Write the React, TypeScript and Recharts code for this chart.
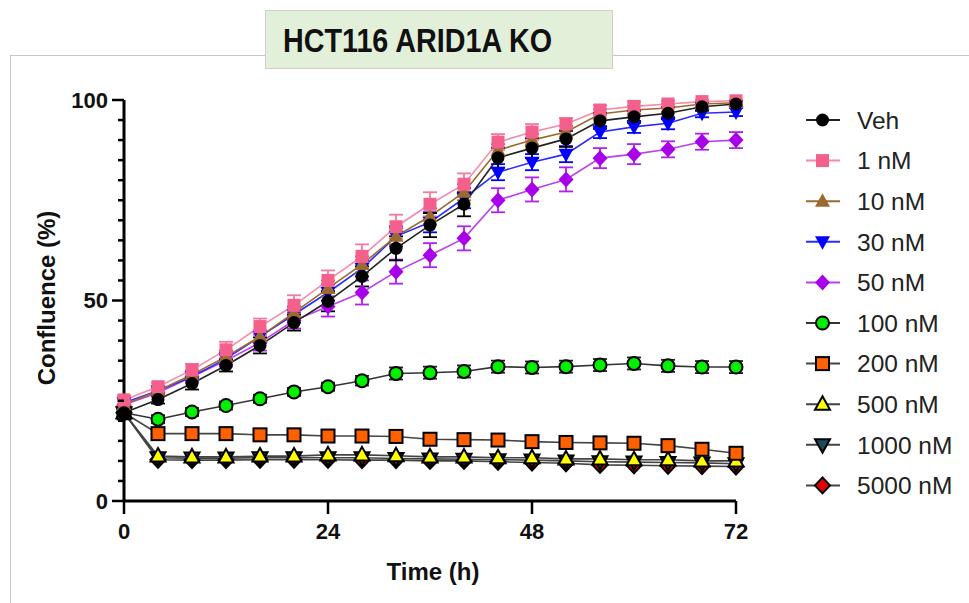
import { LineChart, Line, XAxis, YAxis, ErrorBar } from "recharts";

// time points (h)
const times = [0, 4, 8, 12, 16, 20, 24, 28, 32, 36, 40, 44, 48, 52, 56, 60, 64, 68, 72];

const veh = [22, 25.3, 29.3, 33.8, 38.8, 44.5, 49.8, 56, 63, 68.8, 74, 85.6, 88, 90.3, 94.8, 95.8, 96.7, 98.3, 99];
const vehErr = [1, 1, 1.5, 1.5, 2, 2, 2.5, 2.5, 3, 3, 3, 2.5, 2.5, 2, 2, 1.5, 1.5, 1, 0.8];

const nm1 = [25.2, 28.5, 32.7, 37.7, 43.5, 48.8, 55, 61, 68.4, 74, 79, 89.5, 92, 94, 97.5, 98.4, 99, 99.6, 99.8];
const nm1Err = [1, 1, 1.5, 2, 2, 2.5, 2.5, 3, 3, 3, 2.7, 2, 2, 1.5, 1.2, 1.2, 0.8, 0.4, 0.2];

const nm10 = [24, 27.5, 31.5, 36, 41, 47, 53, 59, 66, 71, 77, 87.5, 90, 92, 96.5, 97.5, 98, 99, 99.3];
const nm10Err = [1, 1, 1, 1.5, 1.5, 1.5, 2, 2, 2, 2, 2, 1.5, 1.5, 1.5, 1.2, 1, 1, 0.8, 0.6];

const nm30 = [24.5, 27.5, 31, 35.5, 41, 46.5, 52, 58, 66, 69.5, 75.5, 82, 84.5, 86.5, 92, 93.3, 94.2, 96.7, 97];
const nm30Err = [1, 1, 1, 1.5, 1.5, 2, 2, 2, 2.5, 2.5, 2.5, 2, 2, 2, 1.5, 1.5, 1.5, 1, 1];

const nm50 = [24, 27, 31, 35, 39.5, 45, 48.5, 52, 57.2, 61.3, 65.5, 75, 77.7, 80.2, 85.5, 86.5, 87.7, 89.6, 90];
const nm50Err = [1, 1, 1.5, 1.5, 2, 2, 2.5, 3, 3, 3, 3, 3, 3, 3, 2.5, 2.5, 2, 2, 2];

const nm100 = [22, 20.4, 22.2, 23.8, 25.5, 27.2, 28.5, 30, 31.8, 32, 32.3, 33.5, 33.3, 33.5, 33.9, 34.3, 33.7, 33.4, 33.4];
const nm100Err = [0.5, 1, 1, 1, 1, 1, 1, 1.2, 1.5, 1.5, 1.5, 1.5, 1.5, 1.5, 1.5, 1.5, 1.5, 1.5, 1.5];

const nm200 = [22, 16.8, 16.8, 16.8, 16.5, 16.5, 16.2, 16.2, 16.1, 15.4, 15.3, 15.2, 14.8, 14.6, 14.5, 14.4, 13.8, 12.9, 11.9];
const nm500 = [22, 11.2, 11, 11, 11.2, 11.2, 11.5, 11.5, 11.3, 11, 11, 10.8, 10.8, 10.5, 10.5, 10.3, 10.3, 10, 10];
const nm1000 = [22, 10.8, 10.7, 10.7, 10.8, 10.8, 10.8, 10.8, 10.6, 10.5, 10.4, 10.3, 10.2, 10, 9.8, 9.7, 9.6, 9.5, 9.3];
const nm5000 = [22, 10.3, 10.2, 10.2, 10.3, 10.3, 10.3, 10.2, 10.2, 10, 10, 9.8, 9.6, 9.4, 9, 8.9, 8.8, 8.7, 8.6];

const xTicks = [0, 24, 48, 72];
const yTicks = [0, 5, 10, 15, 20, 25, 30, 35, 40, 45, 50, 55, 60, 65, 70, 75, 80, 85, 90, 95, 100];
const yLabelTicks = [0, 50, 100];

type Shape = "circle" | "square" | "triangle" | "triangleDown" | "diamond";

interface SeriesDef {
  key: string;
  name: string;
  values: number[];
  errors?: number[];
  shape: Shape;
  fill: string;
  outline?: string;
  line: string;
  errColor?: string;
}

const series: SeriesDef[] = [
  { key: "veh", name: "Veh", values: veh, errors: vehErr, shape: "circle", fill: "#000", line: "#222", errColor: "#000" },
  { key: "nm1", name: "1 nM", values: nm1, errors: nm1Err, shape: "square", fill: "#f4608c", line: "#f58aab", errColor: "#f27aa0" },
  { key: "nm10", name: "10 nM", values: nm10, errors: nm10Err, shape: "triangle", fill: "#9a6a2e", line: "#9a6a2e", errColor: "#9a6a2e" },
  { key: "nm30", name: "30 nM", values: nm30, errors: nm30Err, shape: "triangleDown", fill: "#0000ff", line: "#2b2bff", errColor: "#0000ff" },
  { key: "nm50", name: "50 nM", values: nm50, errors: nm50Err, shape: "diamond", fill: "#a800e8", line: "#bb40f2", errColor: "#b020f0" },
  { key: "nm100", name: "100 nM", values: nm100, errors: nm100Err, shape: "circle", fill: "#00f000", outline: "#000", line: "#333", errColor: "#222" },
  { key: "nm200", name: "200 nM", values: nm200, shape: "square", fill: "#ff6000", outline: "#000", line: "#444" },
  { key: "nm500", name: "500 nM", values: nm500, shape: "triangle", fill: "#ffff00", outline: "#000", line: "#444" },
  { key: "nm1000", name: "1000 nM", values: nm1000, shape: "triangleDown", fill: "#1c4b5c", outline: "#000", line: "#444" },
  { key: "nm5000", name: "5000 nM", values: nm5000, shape: "diamond", fill: "#e00000", outline: "#000", line: "#444" },
];

const rows = times.map((t, i) => {
  const row: Record<string, number> = { t };
  series.forEach((s) => {
    row[s.key] = s.values[i];
    if (s.errors) row[s.key + "Err"] = s.errors[i];
  });
  return row;
});

function Marker({ shape, cx, cy, fill, outline }: { shape: Shape; cx: number; cy: number; fill: string; outline?: string }) {
  const stroke = outline || "none";
  const sw = outline ? 2 : 0;
  switch (shape) {
    case "circle":
      return <circle cx={cx} cy={cy} r={6.5} fill={fill} stroke={stroke} strokeWidth={sw} />;
    case "square":
      return <rect x={cx - 6.5} y={cy - 6.5} width={13} height={13} fill={fill} stroke={stroke} strokeWidth={sw} />;
    case "triangle":
      return <polygon points={`${cx},${cy - 8} ${cx + 7.5},${cy + 5.5} ${cx - 7.5},${cy + 5.5}`} fill={fill} stroke={stroke} strokeWidth={sw} />;
    case "triangleDown":
      return <polygon points={`${cx},${cy + 8} ${cx + 7.5},${cy - 5.5} ${cx - 7.5},${cy - 5.5}`} fill={fill} stroke={stroke} strokeWidth={sw} />;
    default:
      return <polygon points={`${cx},${cy - 8} ${cx + 7.5},${cy} ${cx},${cy + 8} ${cx - 7.5},${cy}`} fill={fill} stroke={stroke} strokeWidth={sw} />;
  }
}

const font = "'Liberation Sans', Arial, sans-serif";

const YTick = (props: any) => {
  const { x, y, payload } = props;
  const major = yLabelTicks.includes(payload.value);
  return (
    <g>
      <line x1={x - (major ? 12 : 6)} x2={x} y1={y} y2={y} stroke="#000" strokeWidth={2.5} />
      {major && (
        <text x={x - 16} y={y} dy="0.36em" textAnchor="end" fontSize={22} fontWeight="bold" fontFamily={font} fill="#111">
          {payload.value}
        </text>
      )}
    </g>
  );
};

const XTick = (props: any) => {
  const { x, y, payload } = props;
  return (
    <g>
      <line x1={x} x2={x} y1={y} y2={y + 13} stroke="#000" strokeWidth={2.5} />
      <text x={x} y={y + 38} textAnchor="middle" fontSize={22} fontWeight="bold" fontFamily={font} fill="#111">
        {payload.value}
      </text>
    </g>
  );
};

export default function App() {
  const drawOrder = [...series].reverse();
  return (
    <div style={{ position: "absolute", left: 0, top: 0, width: 969, height: 603, background: "#fff", overflow: "hidden" }}>
      <div style={{ position: "absolute", left: 10, top: 55, width: 980, height: 600, borderTop: "1.5px solid #c6c6c6", borderLeft: "1.5px solid #c6c6c6" }} />

      <div style={{ position: "absolute", left: 0, top: 0 }}>
        <LineChart width={969} height={603} data={rows} margin={{ top: 100, right: 233, left: 0, bottom: 42 }}>
          <XAxis
            dataKey="t"
            type="number"
            domain={[0, 72]}
            ticks={xTicks}
            interval={0}
            height={60}
            tickSize={0}
            tickMargin={0}
            tickLine={false}
            axisLine={{ stroke: "#000", strokeWidth: 3 }}
            tick={<XTick />}
          />
          <YAxis
            type="number"
            domain={[0, 100]}
            ticks={yTicks}
            interval={0}
            width={124}
            tickSize={0}
            tickMargin={0}
            tickLine={false}
            axisLine={{ stroke: "#000", strokeWidth: 3 }}
            tick={<YTick />}
          />
          {drawOrder.map((s) => (
            <Line
              key={s.key}
              type="linear"
              dataKey={s.key}
              stroke={s.line}
              strokeWidth={1.6}
              isAnimationActive={false}
              activeDot={false}
              dot={(p: any) => (
                <g key={`${s.key}-${p.index}`}>
                  <Marker shape={s.shape} cx={p.cx} cy={p.cy} fill={s.fill} outline={s.outline} />
                </g>
              )}
            >
              {s.errors && (
                <ErrorBar dataKey={s.key + "Err"} direction="y" width={7} stroke={s.errColor} strokeWidth={1.8} />
              )}
            </Line>
          ))}
        </LineChart>
      </div>

      <div
        style={{
          position: "absolute",
          left: 265,
          top: 10,
          width: 348,
          height: 59,
          background: "#e2efd9",
          border: "1px solid #cfcfcf",
          boxSizing: "border-box",
          paddingLeft: 17,
          lineHeight: "59px",
          fontFamily: font,
          fontWeight: "bold",
          fontSize: 33,
          color: "#111",
          whiteSpace: "nowrap",
        }}
      >
        <span style={{ display: "inline-block", transform: "scaleX(0.87)", transformOrigin: "left center" }}>
          HCT116 ARID1A KO
        </span>
      </div>

      <div
        style={{
          position: "absolute",
          left: 47,
          top: 298,
          transform: "translate(-50%, -50%) rotate(-90deg)",
          whiteSpace: "nowrap",
          fontFamily: font,
          fontWeight: "bold",
          fontSize: 24,
          color: "#111",
        }}
      >
        Confluence (%)
      </div>
      <div
        style={{
          position: "absolute",
          left: 433,
          top: 572,
          transform: "translate(-50%, -50%)",
          whiteSpace: "nowrap",
          fontFamily: font,
          fontWeight: "bold",
          fontSize: 24,
          color: "#111",
        }}
      >
        Time (h)
      </div>

      <svg style={{ position: "absolute", left: 800, top: 95 }} width={169} height={410}>
        {series.map((s, i) => {
          const cy = 25 + i * 40.6;
          return (
            <g key={s.key}>
              <line x1={6} x2={40} y1={cy} y2={cy} stroke={s.line} strokeWidth={2} />
              <Marker shape={s.shape} cx={22.5} cy={cy} fill={s.fill} outline={s.outline} />
              <text x={57} y={cy} dy="0.36em" fontSize={24.5} fontFamily={font} fill="#222">
                {s.name}
              </text>
            </g>
          );
        })}
      </svg>
    </div>
  );
}
